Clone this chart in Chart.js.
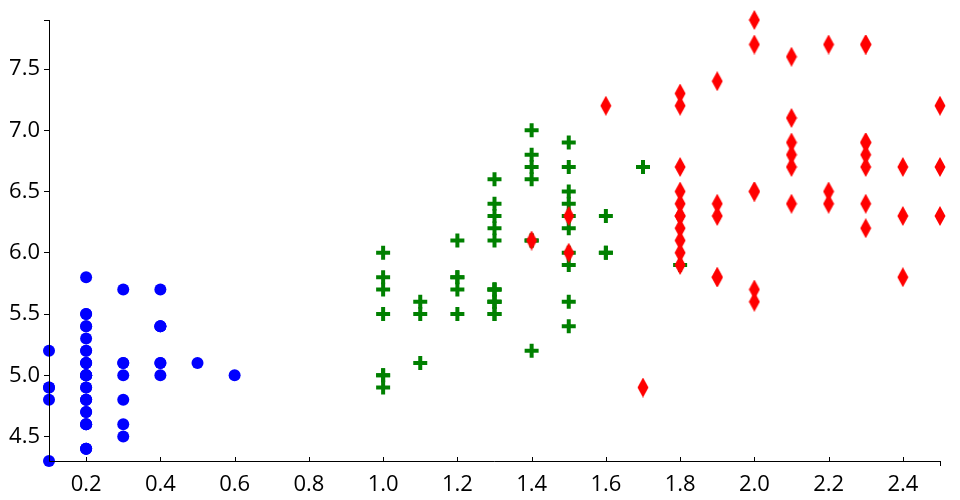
<!DOCTYPE html>
<html>
<head>
<meta charset="utf-8">
<script src="https://cdn.jsdelivr.net/npm/chart.js@4/dist/chart.umd.min.js"></script>
<style>
  html, body { margin: 0; padding: 0; background: #fff; }
  #wrap { width: 960px; height: 500px; }
</style>
</head>
<body>
<div id="wrap"><canvas id="chart"></canvas></div>
<script>
// ---------------- DATA ----------------
// petal width (x) vs sepal length (y)
const setosaX = [0.2,0.2,0.2,0.2,0.2,0.4,0.3,0.2,0.2,0.1,0.2,0.2,0.1,0.1,0.2,0.4,0.4,0.3,0.3,0.3,0.2,0.4,0.2,0.5,0.2,0.2,0.4,0.2,0.2,0.2,0.2,0.4,0.1,0.2,0.2,0.2,0.2,0.1,0.2,0.2,0.3,0.3,0.2,0.6,0.4,0.3,0.2,0.2,0.2,0.2];
const setosaY = [5.1,4.9,4.7,4.6,5.0,5.4,4.6,5.0,4.4,4.9,5.4,4.8,4.8,4.3,5.8,5.7,5.4,5.1,5.7,5.1,5.4,5.1,4.6,5.1,4.8,5.0,5.0,5.2,5.2,4.7,4.8,5.4,5.2,5.5,4.9,5.0,5.5,4.9,4.4,5.1,5.0,4.5,4.4,5.0,5.1,4.8,5.1,4.6,5.3,5.0];

const versicolorX = [1.4,1.5,1.5,1.3,1.5,1.3,1.6,1.0,1.3,1.4,1.0,1.5,1.0,1.4,1.3,1.4,1.5,1.0,1.5,1.1,1.8,1.3,1.5,1.2,1.3,1.4,1.4,1.7,1.5,1.0,1.1,1.0,1.2,1.6,1.5,1.6,1.5,1.3,1.3,1.3,1.2,1.4,1.2,1.0,1.3,1.2,1.3,1.3,1.1,1.3];
const versicolorY = [7.0,6.4,6.9,5.5,6.5,5.7,6.3,4.9,6.6,5.2,5.0,5.9,6.0,6.1,5.6,6.7,5.6,5.8,6.2,5.6,5.9,6.1,6.3,6.1,6.4,6.6,6.8,6.7,6.0,5.7,5.5,5.5,5.8,6.0,5.4,6.0,6.7,6.3,5.6,5.5,5.5,6.1,5.8,5.0,5.6,5.7,5.7,6.2,5.1,5.7];

const virginicaX = [2.5,1.9,2.1,1.8,2.2,2.1,1.7,1.8,1.8,2.5,2.0,1.9,2.1,2.0,2.4,2.3,1.8,2.2,2.3,1.5,2.3,2.0,2.0,1.8,2.1,1.8,1.8,1.8,2.1,1.6,1.9,2.0,2.2,1.5,1.4,2.3,2.4,1.8,1.8,2.1,2.4,2.3,1.9,2.3,2.5,2.3,1.9,2.0,2.3,1.8];
const virginicaY = [6.3,5.8,7.1,6.3,6.5,7.6,4.9,7.3,6.7,7.2,6.5,6.4,6.8,5.7,5.8,6.4,6.5,7.7,7.7,6.0,6.9,5.6,7.7,6.3,6.7,7.2,6.2,6.1,6.4,7.2,7.4,7.9,6.4,6.3,6.1,7.7,6.3,6.4,6.0,6.9,6.7,6.9,5.8,6.8,6.7,6.7,6.3,6.5,6.2,5.9];

const xTicks = [0.2,0.4,0.6,0.8,1.0,1.2,1.4,1.6,1.8,2.0,2.2,2.4];
const yTicks = [4.5,5.0,5.5,6.0,6.5,7.0,7.5];
const xRange = [0.1, 2.5];
const yRange = [4.3, 7.9];

// ---------------- MARKERS ----------------
function crossImg(color) {
    const c = document.createElement("canvas");
    c.width = 16; c.height = 16;
    const g = c.getContext("2d");
    g.fillStyle = color;
    g.fillRect(6, 1, 4, 14);
    g.fillRect(1, 6, 14, 4);
    return c;
}

function diamondImg(color) {
    const c = document.createElement("canvas");
    c.width = 12; c.height = 20;
    const g = c.getContext("2d");
    g.fillStyle = color;
    g.beginPath();
    g.moveTo(6, 0);
    g.lineTo(11.5, 10);
    g.lineTo(6, 20);
    g.lineTo(0.5, 10);
    g.closePath();
    g.fill();
    return c;
}

function toPoints(xs, ys) {
    return xs.map((x, i) => ({ x: x, y: ys[i] }));
}

// ---------------- AXES ON TOP ----------------
// axis lines are drawn over the markers, x ticks point inward
const axesOnTop = {
    id: "axesOnTop",
    afterDatasetsDraw(chart) {
        const { ctx, chartArea: a, scales } = chart;
        ctx.save();
        ctx.strokeStyle = "#000";
        ctx.lineWidth = 1;
        ctx.beginPath();
        ctx.moveTo(a.left + 0.5, a.top);
        ctx.lineTo(a.left + 0.5, a.bottom + 0.5);
        ctx.lineTo(a.right, a.bottom + 0.5);
        xTicks.forEach(v => {
            const px = Math.round(scales.x.getPixelForValue(v)) + 0.5;
            ctx.moveTo(px, a.bottom);
            ctx.lineTo(px, a.bottom - 4);
        });
        const endX = Math.round(scales.x.getPixelForValue(xRange[1])) + 0.5;
        ctx.moveTo(endX, a.bottom);
        ctx.lineTo(endX, a.bottom + 5);
        ctx.stroke();
        ctx.restore();
    }
};

// ---------------- CHART ----------------
const font = { family: "'Open Sans', 'Noto Sans', sans-serif", size: 22 };

function fixedTicks(list, range) {
    return function(scale) {
        scale.ticks = [range[0], ...list, range[1]].map(v => ({ value: v }));
    };
}

new Chart(document.getElementById("chart"), {
    type: "scatter",
    data: {
        datasets: [
            {
                label: "setosa",
                data: toPoints(setosaX, setosaY),
                pointStyle: "circle",
                pointRadius: 6,
                pointHoverRadius: 6,
                backgroundColor: "#0000ff",
                borderColor: "#0000ff",
                borderWidth: 0,
                clip: false,
                order: 2
            },
            {
                label: "versicolor",
                data: toPoints(versicolorX, versicolorY),
                pointStyle: crossImg("#008000"),
                backgroundColor: "#008000",
                clip: false,
                order: 1
            },
            {
                label: "virginica",
                data: toPoints(virginicaX, virginicaY),
                pointStyle: diamondImg("#ff0000"),
                backgroundColor: "#ff0000",
                clip: false,
                order: 0
            }
        ]
    },
    options: {
        responsive: true,
        maintainAspectRatio: false,
        animation: false,
        layout: { padding: { top: 20, right: 20, left: 0, bottom: 0 } },
        plugins: {
            legend: { display: false },
            tooltip: { enabled: false }
        },
        scales: {
            x: {
                type: "linear",
                min: xRange[0],
                max: xRange[1],
                afterBuildTicks: fixedTicks(xTicks, xRange),
                afterFit: s => { s.height = 39; },
                grid: { display: false, drawOnChartArea: false, tickLength: 5 },
                border: { display: false },
                ticks: {
                    color: "#000",
                    font: font,
                    padding: 6,
                    maxRotation: 0,
                    autoSkip: false,
                    callback: v => xTicks.some(t => Math.abs(t - v) < 1e-9) ? v.toFixed(1) : ""
                }
            },
            y: {
                type: "linear",
                min: yRange[0],
                max: yRange[1],
                afterBuildTicks: fixedTicks(yTicks, yRange),
                afterFit: s => { s.width = 49; },
                grid: { drawOnChartArea: false, tickLength: 5, color: "#000" },
                border: { display: false },
                ticks: {
                    color: "#000",
                    font: font,
                    padding: 4,
                    autoSkip: false,
                    callback: v => yTicks.some(t => Math.abs(t - v) < 1e-9) ? v.toFixed(1) : ""
                }
            }
        }
    },
    plugins: [axesOnTop]
});
</script>
</body>
</html>
